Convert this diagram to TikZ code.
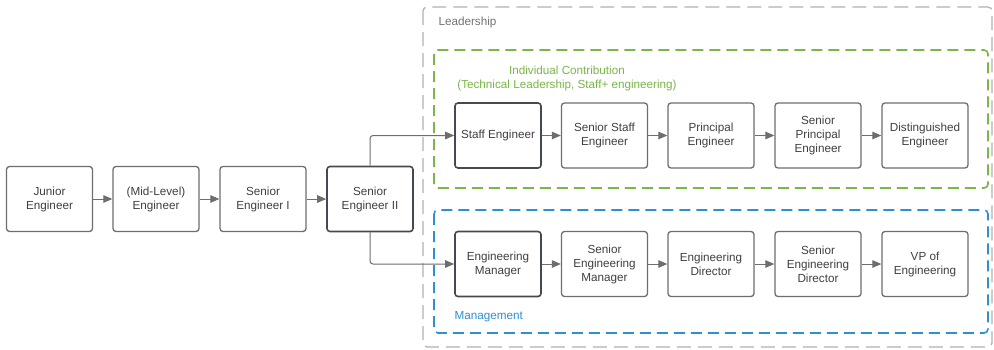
\documentclass[tikz,border=0pt]{standalone}
\usepackage{fontspec}
\setmainfont{Liberation Sans}
\usetikzlibrary{arrows.meta, positioning}
\tikzset{>=stealth}
\definecolor{icgreen}{HTML}{7AB648}
\definecolor{mgblue}{HTML}{2F8FD0}
\definecolor{boxline}{HTML}{6E6E6E}
\definecolor{keyline}{HTML}{454A52}
\definecolor{txtgray}{HTML}{404040}
\tikzset{
  role/.style={draw=boxline, line width=1.3pt, rounded corners=3pt, fill=white,
    minimum width=86pt, minimum height=65pt, inner sep=0pt, align=center,
    text=txtgray, font=\fontsize{11.7}{14}\selectfont},
  keyrole/.style={role, draw=keyline, line width=1.6pt},
  conn/.style={draw=boxline, line width=1pt, -{Triangle[length=9pt,width=7.5pt]}},
  group/.style={rounded corners=4pt, line width=1.6pt},
  grouplabel/.style={font=\fontsize{11.7}{14}\selectfont, align=center}
}
\begin{document}
\begin{tikzpicture}[x=1pt, y=-1pt]

            \fill[white] (0,0) rectangle (994,349);
            \useasboundingbox (0,0) rectangle (994,349);

            % groups
            \draw[group, draw=black!30, line width=1.3pt, dash pattern=on 14pt off 7pt] (423,7) rectangle (992,347);
            \draw[group, draw=icgreen, dash pattern=on 11pt off 6pt] (434,50) rectangle (988,188);
            \draw[group, draw=mgblue, dash pattern=on 11pt off 6pt] (434,210) rectangle (988,333);

            \node[grouplabel, text=black!55, anchor=west] (lead) at (435,22) {Leadership};
            \node[grouplabel, text=icgreen] (ic) at (567,78.5) {Individual Contribution\\(Technical Leadership, Staff+ engineering)};
            \node[grouplabel, text=mgblue, anchor=west] (mg) at (451,317) {Management};

            % engineer track
            \node[role] (je) at (49.5,199) {Junior\\Engineer};
            \node[role] (me) at (156,199) {(Mid-Level)\\Engineer};
            \node[role] (se1) at (263,199) {Senior\\Engineer I};
            \node[keyrole] (se2) at (370,199) {Senior\\Engineer II};

            % individual contribution
            \node[keyrole] (st) at (498,135.5) {Staff Engineer};
            \node[role] (sst) at (604.5,135.5) {Senior Staff\\Engineer};
            \node[role] (pe) at (711,135.5) {Principal\\Engineer};
            \node[role] (spe) at (818,135.5) {Senior\\Principal\\Engineer};
            \node[role] (de) at (925,135.5) {Distinguished\\Engineer};

            % management
            \node[keyrole] (em) at (498,264) {Engineering\\Manager};
            \node[role] (sem) at (604.5,264) {Senior\\Engineering\\Manager};
            \node[role] (ed) at (711,264) {Engineering\\Director};
            \node[role] (sed) at (818,264) {Senior\\Engineering\\Director};
            \node[role] (vp) at (925,264) {VP of\\Engineering};

            \draw[conn] (je)--(me);
            \draw[conn] (me)--(se1);
            \draw[conn] (se1)--(se2);
            \draw[conn, rounded corners=3pt] (se2.north) |- (st.west);
            \draw[conn, rounded corners=3pt] (se2.south) |- (em.west);
            \draw[conn] (st)--(sst);
            \draw[conn] (sst)--(pe);
            \draw[conn] (pe)--(spe);
            \draw[conn] (spe)--(de);
            \draw[conn] (em)--(sem);
            \draw[conn] (sem)--(ed);
            \draw[conn] (ed)--(sed);
            \draw[conn] (sed)--(vp);
            \end{tikzpicture}
\end{document}
